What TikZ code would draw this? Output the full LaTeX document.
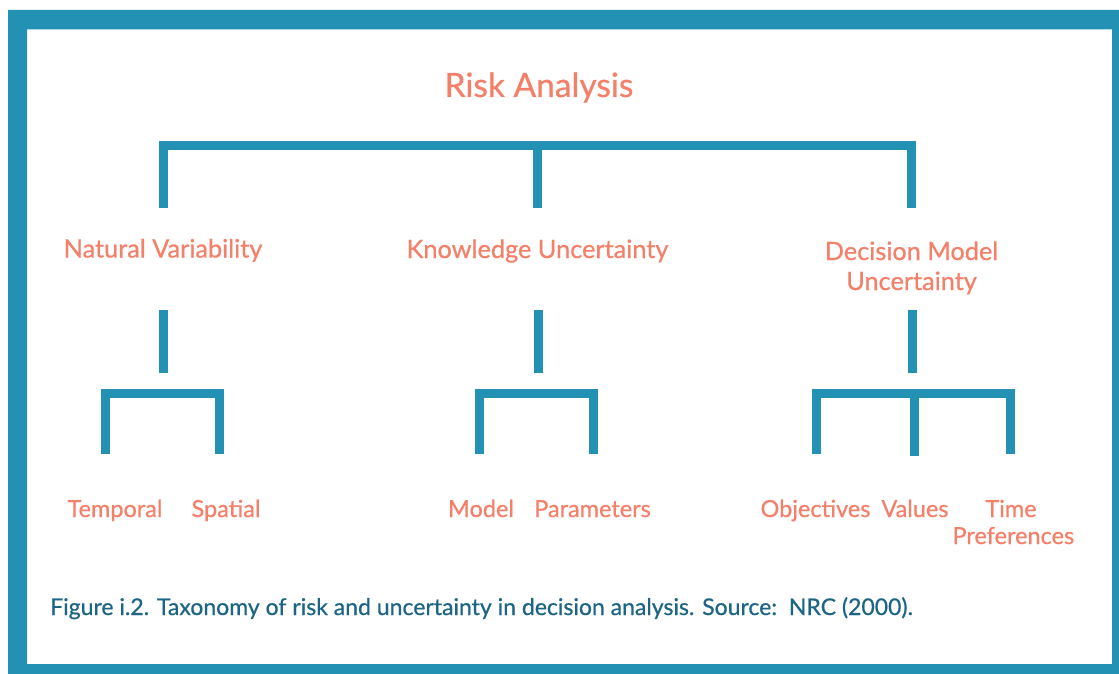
\documentclass[tikz,border=0pt]{standalone}
\usepackage{fontspec}
\setmainfont{Lato}
\newfontfamily\medfont[FakeBold=0.6]{Lato}
\definecolor{frameteal}{HTML}{2391B4}
\definecolor{salmon}{HTML}{F4806A}
\definecolor{captionteal}{HTML}{1D6585}
\begin{document}
\begin{tikzpicture}[x=1pt,y=-1pt,
  bracket/.style={draw=frameteal,line width=9pt,line join=miter},
  lbl/.style={text=salmon,font=\medfont\fontsize{25.3}{30}\selectfont,inner sep=0pt,anchor=base,align=center},
  leaf/.style={text=salmon,font=\medfont\fontsize{23.5}{30}\selectfont,inner sep=0pt,anchor=base,align=center},
  titletext/.style={text=salmon,font=\medfont\fontsize{33.5}{38}\selectfont,inner sep=0pt,anchor=base},
  captext/.style={text=captionteal,font=\medfont\fontsize{23}{26}\selectfont,inner sep=0pt,anchor=base west}]
\useasboundingbox (0,0) rectangle (1119,674);
\fill[white] (0,0) rectangle (1119,674);
% frame
\fill[frameteal,even odd rule] (8,10) rectangle (1119,674) (27,29.5) rectangle (1112,664);

% texts
\node[titletext] (risk) at (539,97) {Risk Analysis};
\node[lbl] (nat) at (163,257.5) {Natural Variability};
\node[lbl] (know) at (537.5,258) {Knowledge Uncertainty};
\node[lbl] (dec) at (911.5,260) {Decision Model};
\node[lbl] (dec2) at (911.5,290) {Uncertainty};
\node[leaf] (temp) at (115,517) {Temporal};
\node[leaf] (spat) at (226,517) {Spatial};
\node[leaf] (model) at (481,517) {Model};
\node[leaf] (param) at (592.5,517) {Parameters};
\node[leaf] (obj) at (815.5,517) {Objectives};
\node[leaf] (val) at (915,517) {Values};
\node[leaf] (time) at (1011,517) {Time};
\node[leaf] (pref) at (1013.3,544) {Preferences};
\node[captext] (caption) at (50,615) {Figure i.2. Taxonomy of risk and uncertainty in decision analysis. Source:\ \ NRC (2000).};

% connector coordinates
\coordinate (tl) at (163.5,145.5);
\coordinate (tc) at (537,145.5);
\coordinate (tr) at (911.5,145.5);
\coordinate (tlb) at (163.5,208);
\coordinate (tcb) at (537,208);
\coordinate (trb) at (911.5,208);

% top bracket
\draw[bracket] (tlb) -- (tl) -- (tr) -- (trb);
\draw[bracket] (tc) -- (tcb);

% middle stems
\coordinate (s1a) at (163.5,310); \coordinate (s1b) at (163.5,373);
\coordinate (s2a) at (538,310); \coordinate (s2b) at (538,373);
\coordinate (s3a) at (912.5,310); \coordinate (s3b) at (912.5,373);
\draw[bracket] (s1a) -- (s1b);
\draw[bracket] (s2a) -- (s2b);
\draw[bracket] (s3a) -- (s3b);

% lower left bracket
\coordinate (a1) at (105,454); \coordinate (a2) at (105,393.5);
\coordinate (a3) at (219,393.5); \coordinate (a4) at (219,454);
\draw[bracket] (a1) -- (a2) -- (a3) -- (a4);

% lower middle bracket
\coordinate (b1) at (479,454); \coordinate (b2) at (479,393.5);
\coordinate (b3) at (593,393.5); \coordinate (b4) at (593,454);
\draw[bracket] (b1) -- (b2) -- (b3) -- (b4);

% lower right bracket
\coordinate (c1) at (816,454); \coordinate (c2) at (816,393.5);
\coordinate (c3) at (1010,393.5); \coordinate (c4) at (1010,454);
\coordinate (c5) at (914,393.5); \coordinate (c6) at (914,455.5);
\draw[bracket] (c1) -- (c2) -- (c3) -- (c4);
\draw[bracket] (c5) -- (c6);
\end{tikzpicture}
\end{document}
